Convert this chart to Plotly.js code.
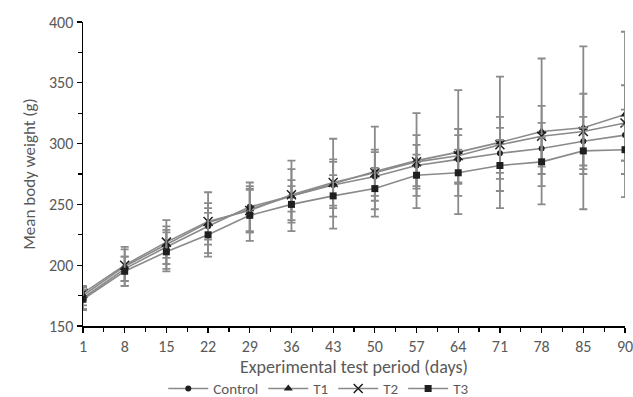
<!DOCTYPE html>
<html>
<head>
<meta charset="utf-8">
<script src="https://cdn.plot.ly/plotly-3.0.1.min.js"></script>
<style>html,body{margin:0;padding:0;background:#fff;}#chart{width:633px;height:397px;}</style>
</head>
<body>
<div id="chart"></div>
<script>
var days = [1, 8, 15, 22, 29, 36, 43, 50, 57, 64, 71, 78, 85, 90];
var seriesNames = ["Control", "T1", "T2", "T3"];
var controlMean = [173, 197, 215, 232, 248, 257, 266, 273, 282, 287, 292, 296, 302, 307];
var t1Mean = [175, 199, 217, 235, 246, 257, 267, 277, 286, 293, 301, 310, 313, 324];
var t2Mean = [177, 200, 219, 236, 245, 258, 268, 276, 285, 290, 299, 306, 310, 317];
var t3Mean = [172, 195, 211, 225, 241, 250, 257, 263, 274, 276, 282, 285, 294, 295];
var controlErr = [10, 10, 14, 15, 20, 13, 19, 20, 17, 20, 21, 21, 20, 21];
var t1Err = [8, 16, 20, 25, 19, 29, 37, 37, 39, 51, 54, 60, 67, 68];
var t2Err = [5, 13, 13, 15, 18, 21, 19, 19, 22, 22, 23, 25, 31, 31];
var t3Err = [8, 12, 16, 18, 21, 15, 17, 17, 17, 19, 21, 20, 19, 20];
var yTicks = [150, 200, 250, 300, 350, 400];

var font = "Carlito, Calibri, 'Liberation Sans Narrow', 'DejaVu Sans Condensed', sans-serif";
var xIdx = days.map(function (d, i) { return i; });
var means = [controlMean, t1Mean, t2Mean, t3Mean];
var errs = [controlErr, t1Err, t2Err, t3Err];
var symbols = ["circle", "triangle-up", "x-thin-open", "square"];
var sizes = [6, 8, 9, 7];

var traces = seriesNames.map(function (name, k) {
  return {
    type: "scatter",
    mode: "lines+markers",
    name: name,
    x: xIdx,
    y: means[k],
    line: { color: "#8a8a8a", width: 1.6 },
    marker: {
      symbol: symbols[k], size: sizes[k], color: "#1f1f1f",
      line: { color: "#1f1f1f", width: k === 2 ? 1.5 : 0 }
    },
    error_y: { type: "data", array: errs[k], visible: true, color: "#8a8a8a", thickness: 1.8, width: 4 }
  };
});

var layout = {
  width: 633, height: 397,
  margin: { l: 83, r: 8, t: 22, b: 71, autoexpand: false },
  paper_bgcolor: "#ffffff", plot_bgcolor: "#ffffff",
  showlegend: true,
  font: { family: font, color: "#595959", size: 14 },
  xaxis: {
    range: [0, days.length - 1],
    tickmode: "array",
    tickvals: xIdx,
    ticktext: days.map(String),
    ticklabeloverflow: "allow",
    showgrid: false, zeroline: false,
    showline: true, linecolor: "#000000", linewidth: 1.5,
    ticks: "outside", ticklen: 5, tickcolor: "#000000", tickwidth: 1.2,
    minor: { dtick: 0.5, tick0: 0, ticks: "outside", ticklen: 4, tickcolor: "#000000", tickwidth: 1.2, showgrid: false },
    tickfont: { family: font, size: 16, color: "#595959" },
    automargin: false,
    title: { text: "Experimental test period (days)", font: { family: font, size: 18, color: "#595959" }, standoff: 0 }
  },
  yaxis: {
    range: [150, 400],
    tickmode: "array",
    tickvals: yTicks,
    showgrid: false, zeroline: false,
    showline: true, linecolor: "#000000", linewidth: 1.5,
    ticks: "outside", ticklen: 5, tickcolor: "#000000", tickwidth: 1.2,
    minor: { dtick: 25, tick0: 150, ticks: "outside", ticklen: 4, tickcolor: "#000000", tickwidth: 1.2, showgrid: false },
    tickfont: { family: font, size: 16, color: "#595959" },
    automargin: false,
    title: { text: "Mean body weight (g)", font: { family: font, size: 17, color: "#595959" }, standoff: 9 }
  },
  legend: {
    orientation: "h",
    x: 0.435, xanchor: "center",
    y: -0.152, yanchor: "top",
    font: { family: font, size: 15, color: "#595959" },
    itemwidth: 40,
    tracegroupgap: 0,
    bgcolor: "rgba(0,0,0,0)"
  }
};

Plotly.newPlot("chart", traces, layout, { displayModeBar: false, staticPlot: true });
</script>
</body>
</html>
